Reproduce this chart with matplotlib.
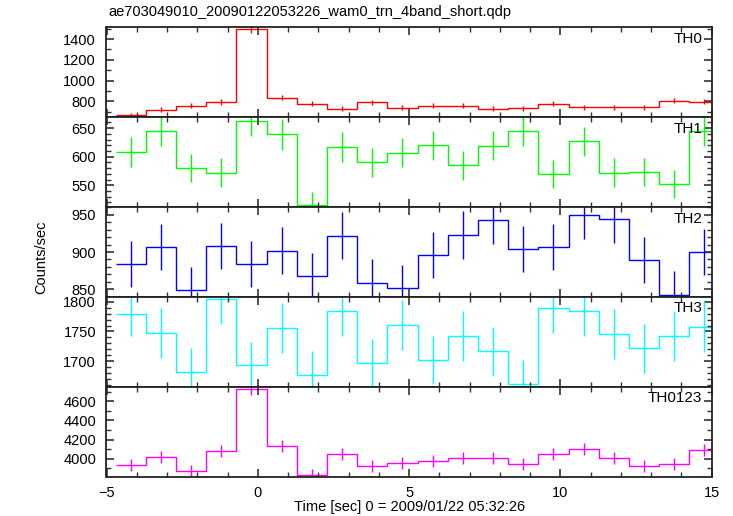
import numpy as np
import matplotlib
matplotlib.use("Agg")
import matplotlib.pyplot as plt
from matplotlib.ticker import MultipleLocator

plt.rcParams['font.family'] = ['Liberation Sans', 'DejaVu Sans']

title = "ae703049010_20090122053226_wam0_trn_4band_short.qdp"
xlabel = "Time [sec] 0 = 2009/01/22 05:32:26"
ylabel = "Counts/sec"

time = [-4.20, -3.20, -2.20, -1.21, -0.21, 0.79, 1.79, 2.79, 3.78, 4.78,
        5.78, 6.78, 7.78, 8.77, 9.77, 10.77, 11.77, 12.77, 13.76, 14.76]
bin_width = 0.998

th0 = [665, 720, 758, 793, 1494, 836, 778, 729, 790, 739,
       758, 758, 729, 735, 778, 742, 742, 742, 807, 797]
th0_err = [24, 25, 25, 26, 36, 26, 25, 25, 26, 25,
           25, 25, 25, 25, 25, 25, 25, 25, 26, 26]

th1 = [608, 644, 580, 572, 663, 639, 515, 617, 590, 607,
       620, 585, 619, 645, 570, 627, 572, 573, 552, 645]
th1_err = [26, 25, 25, 25, 27, 27, 24, 26, 25, 25,
           25, 25, 25, 26, 25, 25, 25, 25, 24, 26]

th2 = [884, 907, 849, 908, 884, 902, 868, 922, 859, 852,
       896, 923, 943, 904, 907, 950, 944, 889, 843, 900]
th2_err = [31, 31, 31, 31, 31, 31, 31, 32, 31, 31,
           31, 32, 32, 31, 31, 32, 32, 31, 31, 31]

th3 = [1779, 1747, 1682, 1805, 1693, 1756, 1677, 1785, 1697, 1761,
       1702, 1743, 1717, 1662, 1789, 1785, 1746, 1722, 1743, 1758]
th3_err = [36, 42, 41, 42, 40, 42, 40, 42, 40, 42,
           41, 42, 41, 40, 42, 42, 42, 41, 42, 43]

th0123 = [3937, 4021, 3871, 4077, 4733, 4133, 3832, 4052, 3927, 3958,
          3976, 4007, 4007, 3941, 4045, 4105, 4007, 3927, 3941, 4094]
th0123_err = [63, 63, 62, 63, 70, 64, 62, 63, 63, 63,
              63, 63, 63, 63, 63, 64, 63, 63, 63, 64]

panels = [
    ("TH0", th0, th0_err, "#ff0000", (648, 1513), [800, 1000, 1200, 1400], 100),
    ("TH1", th1, th1_err, "#00ff00", (512, 669), [550, 600, 650], 10),
    ("TH2", th2, th2_err, "#0000ff", (840, 960), [850, 900, 950], 10),
    ("TH3", th3, th3_err, "#00ffff", (1657, 1808), [1700, 1750, 1800], 10),
    ("TH0123", th0123, th0123_err, "#ff00ff", (3812, 4751), [4000, 4200, 4400, 4600], 100),
]

fig = plt.figure(figsize=(7.33, 5.16), dpi=100)
left, right, top, bottom = 106.5 / 733, 711.7 / 733, 1 - 27.3 / 516, 1 - 476.7 / 516
h = (top - bottom) / len(panels)

t = np.array(time)
edges = np.append(t - bin_width / 2, t[-1] + bin_width / 2)

for i, (name, vals, errs, col, ylim, yticks, yminor) in enumerate(panels):
    ax = fig.add_axes([left, top - (i + 1) * h, right - left, h])
    ax.stairs(vals, edges, baseline=None, color=col, lw=1.0)
    ax.errorbar(time, vals, yerr=errs, fmt='none', ecolor=col, elinewidth=1.0, capsize=0)
    ax.set_xlim(-5, 15)
    ax.set_ylim(*ylim)
    ax.set_yticks(yticks)
    ax.yaxis.set_minor_locator(MultipleLocator(yminor))
    ax.xaxis.set_major_locator(MultipleLocator(5))
    ax.xaxis.set_minor_locator(MultipleLocator(1))
    ax.tick_params(which='both', direction='in', top=True, right=True,
                   colors='#333333', labelcolor='black', labelsize=10.5)
    ax.tick_params(which='major', length=6, width=1.2)
    ax.tick_params(which='minor', length=3.5, width=1.0)
    ax.tick_params(axis='y', which='major', pad=7.5)
    ax.tick_params(axis='x', which='major', pad=6.5)
    for s in ax.spines.values():
        s.set_linewidth(1.3)
        s.set_color('#222222')
    if i < len(panels) - 1:
        ax.tick_params(labelbottom=False)
    ax.text(0.984, 0.95, name, transform=ax.transAxes, ha='right', va='top', fontsize=11)

fig.text(108 / 733, 1 - 12 / 516, title, ha='left', va='center', fontsize=10.5)
fig.text((left + right) / 2, 1 - 507 / 516, xlabel, ha='center', va='center', fontsize=10.5)
fig.text(41 / 733, 1 - 257 / 516, ylabel, ha='center', va='center', rotation=90, fontsize=10.5)

fig.savefig("out.png", dpi=100)
